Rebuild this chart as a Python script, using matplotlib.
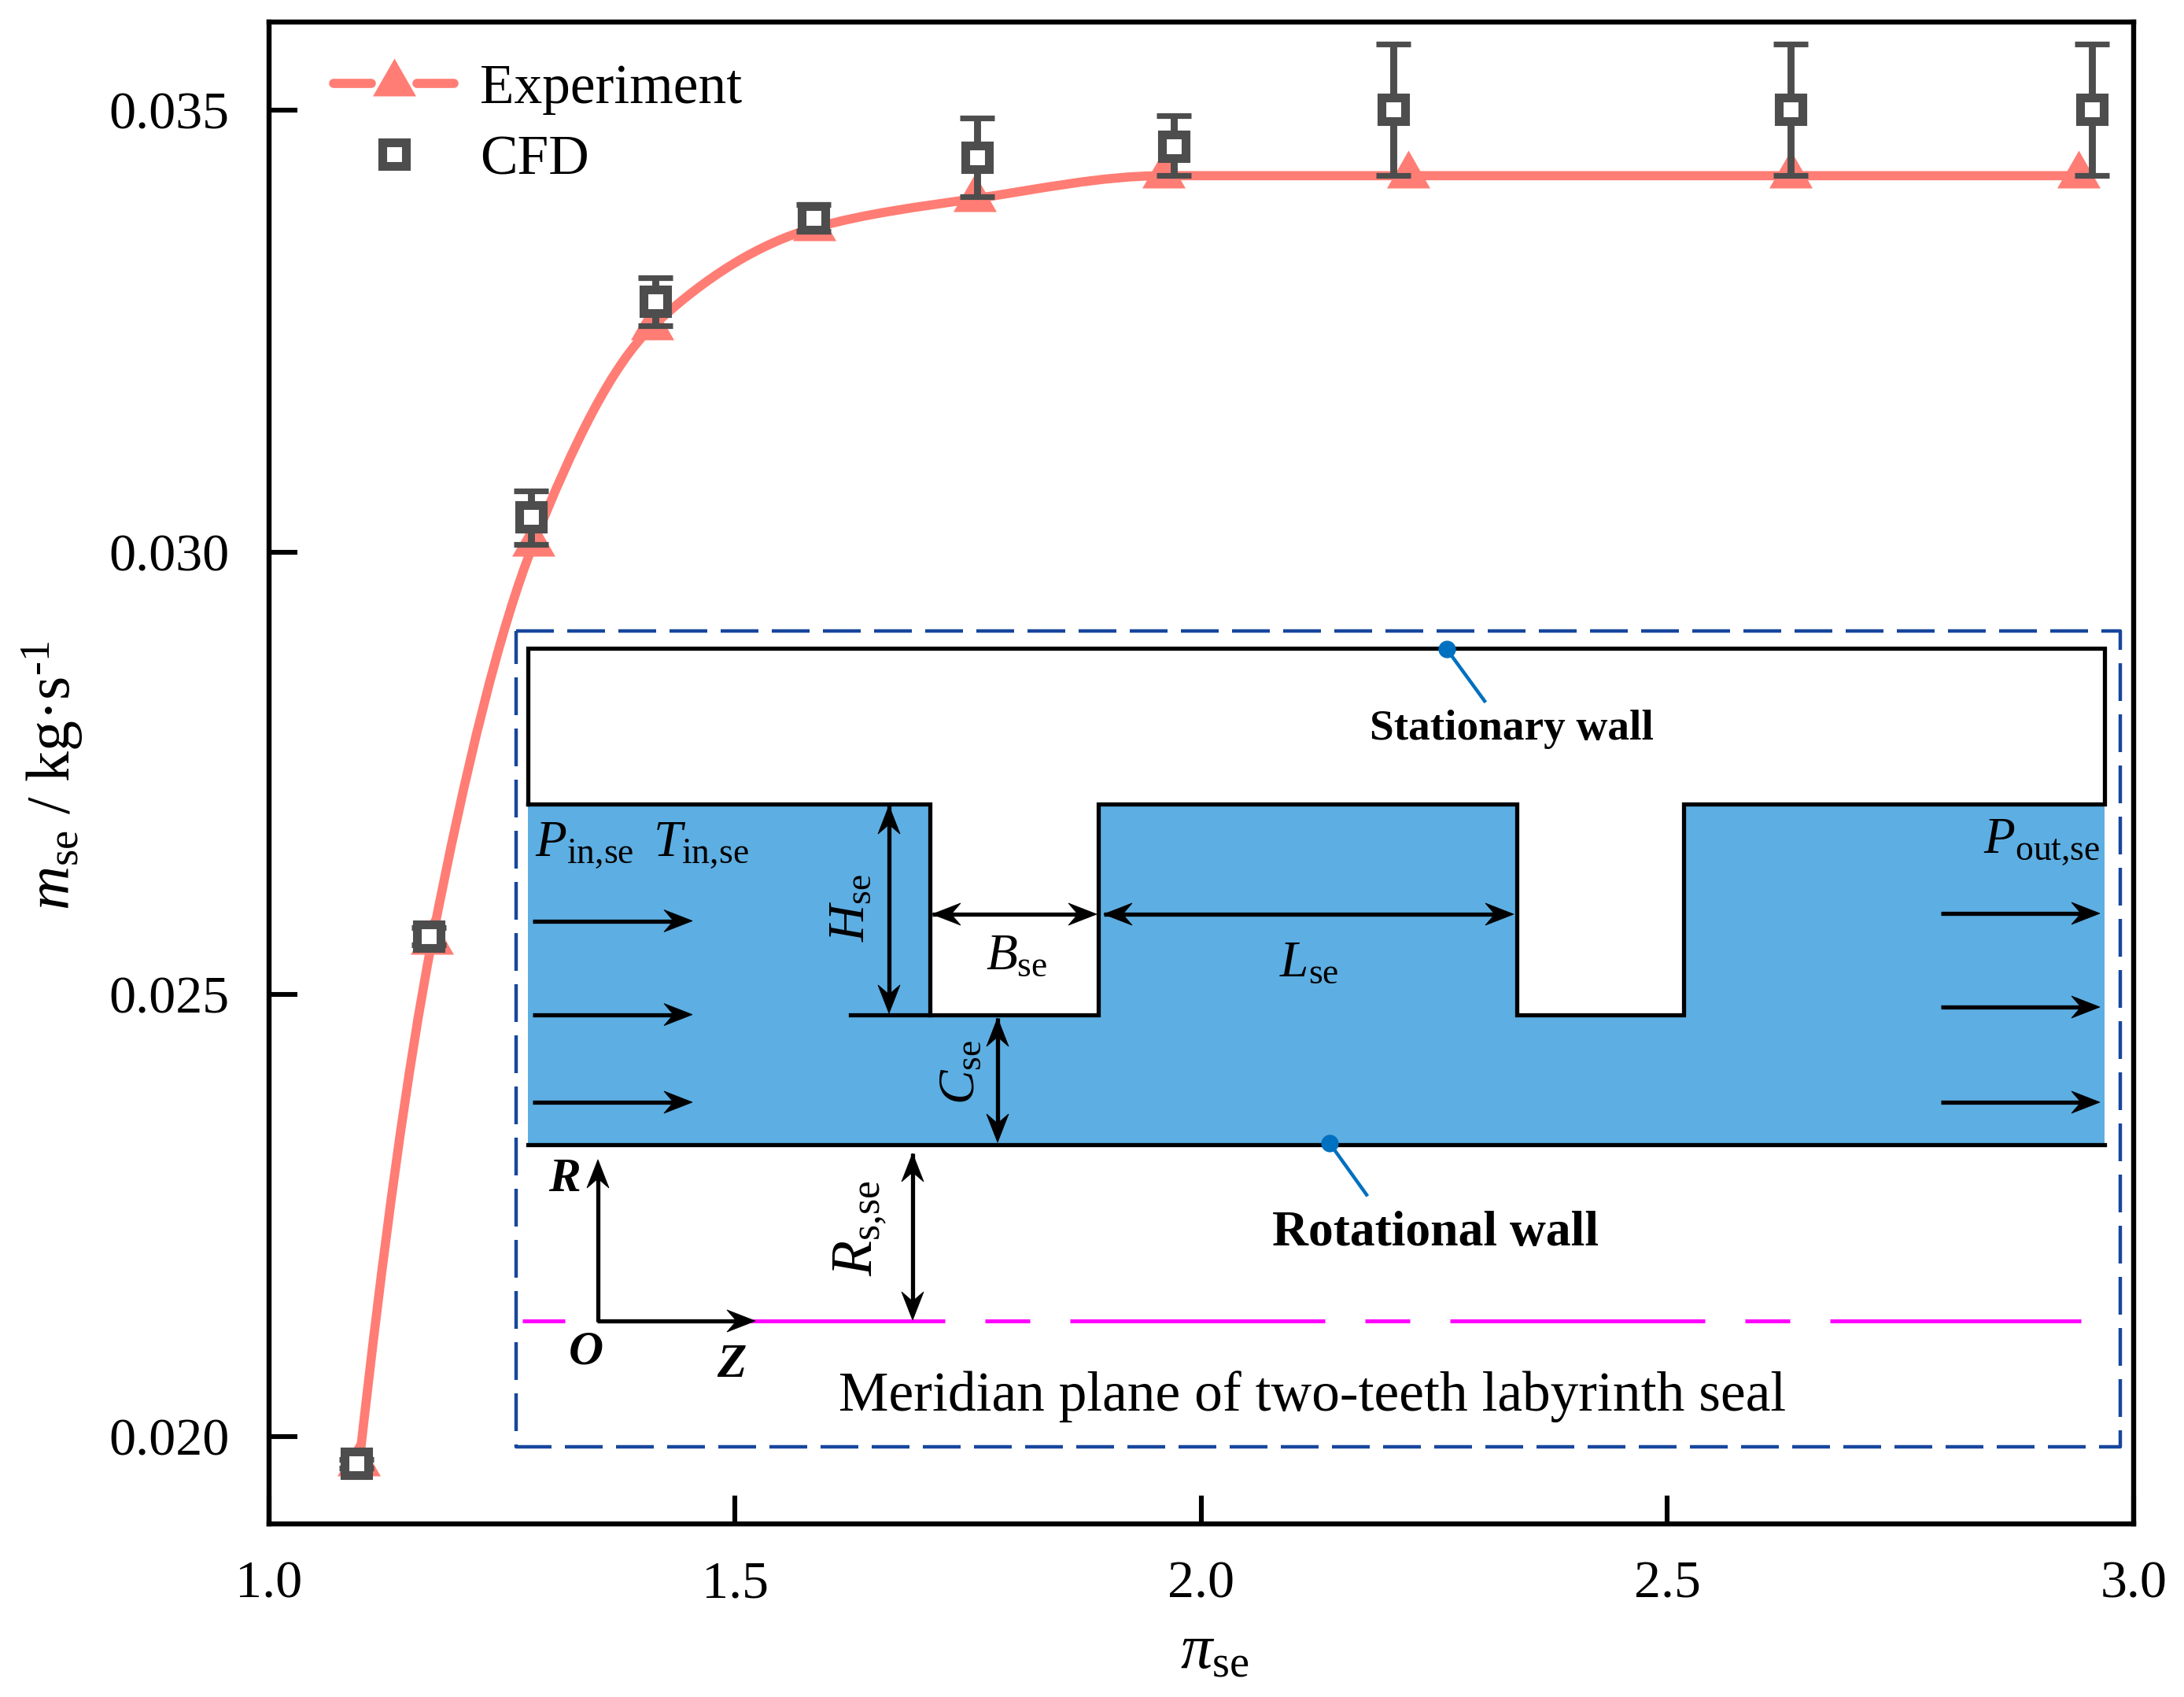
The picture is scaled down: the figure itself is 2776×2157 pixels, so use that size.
import numpy as np
import matplotlib
matplotlib.use('Agg')
import matplotlib.pyplot as plt
from matplotlib.path import Path
from matplotlib.patches import PathPatch, Polygon
from matplotlib.lines import Line2D
from matplotlib.legend_handler import HandlerBase

plt.rcParams['font.family'] = ['Liberation Serif']
plt.rcParams['mathtext.fontset'] = 'custom'
plt.rcParams['mathtext.rm'] = 'Liberation Serif'
plt.rcParams['mathtext.it'] = 'Liberation Serif:italic'
plt.rcParams['mathtext.bf'] = 'Liberation Serif:bold'

# ---- data ----
exp_pi = [1.097, 1.175, 1.284, 1.411, 1.585, 1.757, 1.960, 2.222, 2.632, 2.941]
exp_m = [0.01970, 0.02560, 0.03010, 0.03255, 0.03367, 0.03400, 0.03426, 0.03426, 0.03426, 0.03426]
cfd_pi = [1.094, 1.172, 1.281, 1.415, 1.584, 1.760, 1.971, 2.206, 2.632, 2.955]
cfd_m = [0.01970, 0.02566, 0.03040, 0.03284, 0.03378, 0.03447, 0.03459, 0.03501, 0.03501, 0.03501]
cfd_up = [0.01975, 0.02576, 0.03070, 0.03311, 0.03393, 0.03491, 0.03494, 0.03575, 0.03575, 0.03575]
cfd_lo = [0.01965, 0.02556, 0.03009, 0.03256, 0.03363, 0.03402, 0.03426, 0.03426, 0.03426, 0.03426]
x_ticks = [1.0, 1.5, 2.0, 2.5, 3.0]
y_ticks = [0.020, 0.025, 0.030, 0.035]

W, H = 2776, 2157
DPI = 200
PX = 72 / DPI  # points per pixel
RED = '#FF7D74'
GREY = '#4D4D4D'
BLUE_FILL = '#5DAEE2'
BOX = '#17479E'
DOT = '#0070C0'
LW_CURVE = 4.2

fig = plt.figure(figsize=(W / DPI, H / DPI), dpi=DPI, facecolor='white')
L, R_, T_, B = 341.5, 2712, 27.7, 1936.6
ax = fig.add_axes([L / W, 1 - B / H, (R_ - L) / W, (B - T_) / H])
ax.set_xlim(1.0, 3.0)
ax.set_ylim(0.01902, 0.0360)
for s in ax.spines.values():
    s.set_linewidth(2.3)
ax.set_xticks(x_ticks)
ax.set_xticklabels(['%.1f' % v for v in x_ticks])
ax.set_yticks(y_ticks)
ax.set_yticklabels(['%.3f' % v for v in y_ticks])
ax.tick_params(axis='x', direction='in', length=13, width=2.2, labelsize=24.5, pad=17)
ax.tick_params(axis='y', direction='in', length=13, width=2.2, labelsize=24.5, pad=18)

# smooth experiment curve: cubic segments through the measured points
px_, py_ = np.array(exp_pi), np.array(exp_m)
h_ = np.diff(px_)
d_ = np.diff(py_) / h_
t_ = np.zeros_like(px_)
for i in range(1, len(px_) - 1):
    if d_[i - 1] * d_[i] > 0:
        w1, w2 = 2 * h_[i] + h_[i - 1], h_[i] + 2 * h_[i - 1]
        t_[i] = (w1 + w2) / (w1 / d_[i - 1] + w2 / d_[i])
t_[0] = d_[0] * 1.25
verts = [(px_[0], py_[0])]
codes = [Path.MOVETO]
for i in range(len(px_) - 1):
    verts += [(px_[i] + h_[i] / 3, py_[i] + t_[i] * h_[i] / 3),
              (px_[i + 1] - h_[i] / 3, py_[i + 1] - t_[i + 1] * h_[i] / 3),
              (px_[i + 1], py_[i + 1])]
    codes += [Path.CURVE4] * 3
ax.add_patch(PathPatch(Path(verts, codes), fc='none', ec=RED, lw=LW_CURVE, zorder=3))

# triangle whose centroid sits on the data point
TRI = Path([(-27.5, -16), (27.5, -16), (0, 32), (-27.5, -16)], closed=True)
TRI_MS = 64 * PX
ax.plot(exp_pi, exp_m, ls='none', marker=TRI, ms=TRI_MS, mfc=RED, mec=RED, mew=0, zorder=2.5)

ax.errorbar(cfd_pi, cfd_m,
            yerr=[np.array(cfd_m) - np.array(cfd_lo), np.array(cfd_up) - np.array(cfd_m)],
            ls='none', ecolor=GREY, elinewidth=3.2, capsize=8, capthick=2.6, zorder=4)
ax.plot(cfd_pi, cfd_m, ls='none', marker='s', ms=10.8, mfc='white', mec=GREY, mew=4, zorder=5)


class SplitHandler(HandlerBase):
    def create_artists(self, legend, orig, xd, yd, w, h, fs, trans):
        y = (h - yd) / 2
        gap = 10.5
        a = Line2D([-xd, -xd + w / 2 - gap], [y, y], color=RED, lw=LW_CURVE, solid_capstyle='round', transform=trans)
        b = Line2D([-xd + w / 2 + gap, -xd + w], [y, y], color=RED, lw=LW_CURVE, solid_capstyle='round', transform=trans)
        c = Line2D([-xd + w / 2], [y], ls='none', marker=TRI, ms=TRI_MS, mfc=RED, mec=RED, mew=0, transform=trans)
        return [a, b, c]


h_exp = Line2D([], [], color=RED, marker=TRI)
h_cfd = Line2D([], [], ls='none', marker='s', ms=10.8, mfc='white', mec=GREY, mew=4)
ax.legend([h_exp, h_cfd], ['Experiment', 'CFD'], handler_map={h_exp: SplitHandler()},
          loc='upper left', bbox_to_anchor=(0.0348, 0.972), frameon=False, fontsize=25.7,
          handlelength=2.15, handletextpad=0.46, labelspacing=0.35, borderpad=0, borderaxespad=0)

# ---- overlay in reference pixel coordinates for the schematic ----
ov = fig.add_axes([0, 0, 1, 1], facecolor='none', zorder=10)
ov.set_xlim(0, W)
ov.set_ylim(H, 0)
ov.axis('off')

X0, X1 = 671, 2675
TOP, ROOF, TIP, BASE = 823.5, 1022, 1290, 1455
t1a, t1b, t2a, t2b = 1182, 1396, 1928, 2140
LW_K = 1.9

ov.add_patch(Polygon([(X0, ROOF), (t1a, ROOF), (t1a, TIP), (t1b, TIP), (t1b, ROOF), (t2a, ROOF), (t2a, TIP),
                      (t2b, TIP), (t2b, ROOF), (X1, ROOF), (X1, BASE), (X0, BASE)], fc=BLUE_FILL, ec='none'))
ov.plot([X0, X0, X1, X1, t2b, t2b, t2a, t2a, t1b, t1b, t1a, t1a, X0],
        [ROOF, TOP, TOP, ROOF, ROOF, TIP, TIP, ROOF, ROOF, TIP, TIP, ROOF, ROOF],
        color='k', lw=LW_K, solid_joinstyle='miter', solid_capstyle='projecting')
ov.plot([1081, t1a], [TIP, TIP], color='k', lw=LW_K)
ov.plot([X0, X1], [BASE, BASE], color='k', lw=LW_K)

lwb = 1.6
ov.plot([656, 2695, 2695, 656, 656], [802, 802, 1839, 1839, 802], color=BOX, lw=lwb,
        ls=(0, (48 * PX / lwb, 17 * PX / lwb)), dash_capstyle='butt')

lwm = 1.8
ov.plot([664, 2645], [1679, 1679], color='#FF00FF', lw=lwm, zorder=2,
        ls=(270 * PX / lwm, (324 * PX / lwm, 51 * PX / lwm, 57 * PX / lwm, 51 * PX / lwm)), dash_capstyle='butt')


def head(xt, yt, ux, uy):
    """filled stealth head with its tip at (xt, yt), pointing along (ux, uy)"""
    ln, hw, notch = 36, 14, 24
    vx, vy = -uy, ux
    ov.add_patch(Polygon([(xt, yt),
                          (xt - ln * ux + hw * vx, yt - ln * uy + hw * vy),
                          (xt - notch * ux, yt - notch * uy),
                          (xt - ln * ux - hw * vx, yt - ln * uy - hw * vy)],
                         fc='k', ec='k', lw=0.3, zorder=3))


def arrow(x0, y0, x1, y1, both=False):
    d = np.hypot(x1 - x0, y1 - y0)
    ux, uy = (x1 - x0) / d, (y1 - y0) / d
    ov.plot([x0, x1 - 12 * ux], [y0, y1 - 12 * uy], color='k', lw=LW_K, solid_capstyle='butt', zorder=3)
    head(x1, y1, ux, uy)
    if both:
        head(x0, y0, -ux, -uy)


for yy in (1170.5, 1289.6, 1401):
    arrow(677, yy, 880, yy)
for yy in (1161, 1280, 1401):
    arrow(2467, yy, 2669, yy)
arrow(1130, 1024, 1130, 1288, True)
arrow(1185, 1162, 1394, 1162, True)
arrow(1403, 1162, 1924, 1162, True)
arrow(1268, 1294, 1268, 1452, True)
arrow(1160, 1466, 1160, 1678, True)
arrow(760, 1680, 760, 1474)
arrow(759, 1679, 960, 1679)

ov.plot([1838.6, 1887], [824.6, 891], color=DOT, lw=1.6, zorder=4)
ov.plot([1838.6], [824.6], 'o', color=DOT, ms=8, mew=0, zorder=4)
ov.plot([1690, 1737], [1453, 1518.6], color=DOT, lw=1.6, zorder=4)
ov.plot([1690], [1453], 'o', color=DOT, ms=8, mew=0, zorder=4)


def label(x, y, s, size=23.5, rot=0, **kw):
    ov.text(x, y, s, fontsize=size, rotation=rot, ha='center', va='center', color='k', zorder=6, **kw)


label(1922, 927, 'Stationary wall', 19.9, weight='bold')
label(1825, 1568, 'Rotational wall', 22.9, weight='bold')
label(1668, 1775, 'Meridian plane of two-teeth labyrinth seal', 25.7)
label(743, 1075, r'$\mathit{P}_{\mathrm{in{,}se}}$')
label(891, 1075, r'$\mathit{T}_{\mathrm{in{,}se}}$')
label(2595, 1071, r'$\mathit{P}_{\mathrm{out{,}se}}$')
label(1082, 1154, r'$\mathit{H}_{\mathrm{se}}$', rot=90)
label(1292, 1216, r'$\mathit{B}_{\mathrm{se}}$')
label(1664, 1225, r'$\mathit{L}_{\mathrm{se}}$')
label(1222, 1363, r'$\mathit{C}_{\mathrm{se}}$', rot=90)
label(1094, 1561, r'$\mathit{R}_{\mathrm{s{,}se}}$', 26.5, rot=90)
label(717, 1499, 'R', 22, style='italic', weight='bold')
label(745, 1719, 'O', 22, style='italic', weight='bold')
label(930, 1735, 'Z', 22, style='italic', weight='bold')

# axis titles
label(67, 986, '$\\mathit{m}_{\\mathrm{se}}$ / kg·s$^{\u2010 1}$', 28, rot=90)
label(1544, 2101, r'$\mathit{\pi}_{\mathrm{se}}$', 29)

fig.savefig('out.png', dpi=DPI)
